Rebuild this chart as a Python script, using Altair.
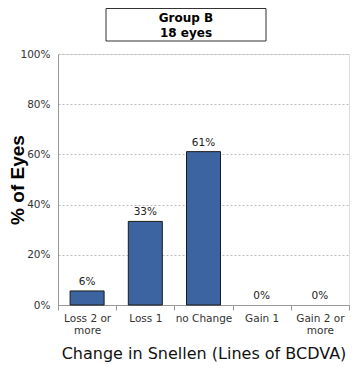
import altair as alt
import pandas as pd

categories = ["Loss 2 or more", "Loss 1", "no Change", "Gain 1", "Gain 2 or more"]
values = [5.6, 33.3, 61.1, 0, 0]
title_lines = "Group B\n18 eyes"

df = pd.DataFrame({"cat": categories, "pct": values})

FONT = "DejaVu Sans"

base = alt.Chart(df).transform_calculate(
    frac="datum.pct / 100",
    label="format(round(datum.pct), 'd') + '%'",
)

xenc = alt.X(
    "cat:N",
    sort=categories,
    scale=alt.Scale(paddingInner=0, paddingOuter=0),
    axis=alt.Axis(
        title="Change in Snellen (Lines of BCDVA)",
        labelAngle=0,
        labelExpr="datum.label == 'Loss 2 or more' ? ['Loss 2 or', 'more'] : datum.label == 'Gain 2 or more' ? ['Gain 2 or', 'more'] : datum.label",
        tickBand="extent",
        tickSize=5,
        tickColor="#999",
        domainColor="#999",
        labelPadding=3,
        labelFont=FONT,
        labelFontSize=10.5,
        labelColor="#333",
        titleFont=FONT,
        titleFontSize=16,
        titleFontWeight="normal",
        titleColor="#111",
        titlePadding=9,
    ),
)

yenc = alt.Y(
    "frac:Q",
    scale=alt.Scale(domain=[0, 1]),
    axis=alt.Axis(
        title="% of Eyes",
        format="%",
        values=[0, 0.2, 0.4, 0.6, 0.8, 1.0],
        ticks=False,
        labelPadding=8,
        labelFont=FONT,
        labelFontSize=10.5,
        labelColor="#333",
        domainColor="#999",
        grid=True,
        gridDash=[2, 2],
        gridColor="#bbb",
        titleFont="Liberation Sans",
        titleFontSize=19,
        titleFontWeight="bold",
        titleColor="#000",
        titleX=-41,
        titleBaseline="middle",
    ),
)

bars = base.transform_filter("datum.pct > 0").mark_bar(
    size=34, color="#3C64A0", stroke="#1a1a1a", strokeWidth=1
).encode(x=xenc, y=yenc)

labels = base.mark_text(dy=-9, font=FONT, fontSize=10.5, color="#222").encode(
    x=alt.X("cat:N", sort=categories), y="frac:Q", text="label:N"
)

box_data = alt.Data(values=[{"t": title_lines}])
box = alt.Chart(box_data).mark_rect(fill="white", stroke="#333", strokeWidth=1).encode(
    x=alt.value(48), x2=alt.value(208), y=alt.value(-45.5), y2=alt.value(-13)
)
box_text = alt.Chart(box_data).mark_text(
    lineBreak="\n", font=FONT, fontSize=12, fontWeight="bold", color="#000", baseline="middle", lineHeight=15
).encode(x=alt.value(128), y=alt.value(-36.5), text="t:N")

chart = alt.layer(bars, labels, box, box_text).properties(
    width=291,
    height=251,
    autosize=alt.AutoSizeParams(type="none"),
    padding={"left": 50, "top": 46, "right": 1, "bottom": 59},
).configure_view(stroke="#999").configure(background="white")

chart.save("out.html", embed_options={"renderer": "svg", "actions": False})
